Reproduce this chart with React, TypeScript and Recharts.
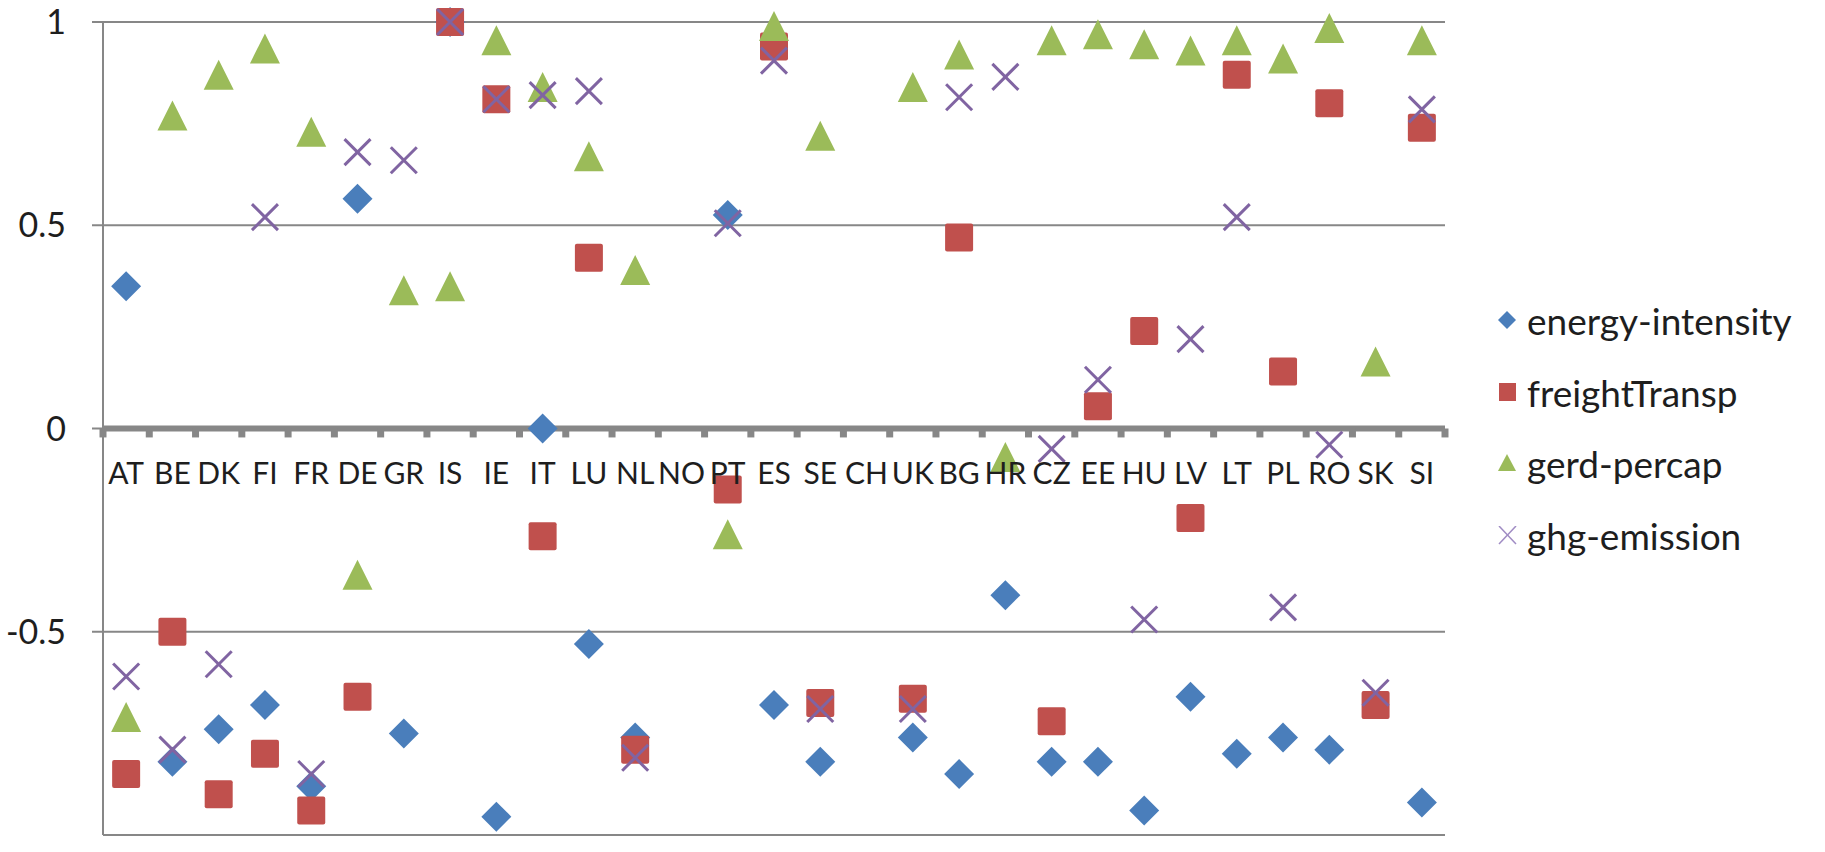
import React from 'react';
import { ScatterChart, Scatter, XAxis, YAxis, CartesianGrid, ReferenceLine } from 'recharts';

// page has an 8px body margin by default; the chart should sit at the top-left corner
if (typeof document !== 'undefined') document.body.style.margin = '0';

const countries = [
  'AT', 'BE', 'DK', 'FI', 'FR', 'DE', 'GR', 'IS', 'IE', 'IT', 'LU', 'NL', 'NO', 'PT', 'ES',
  'SE', 'CH', 'UK', 'BG', 'HR', 'CZ', 'EE', 'HU', 'LV', 'LT', 'PL', 'RO', 'SK', 'SI',
];

const energyIntensity = [
  0.35, -0.82, -0.74, -0.68, -0.88, 0.565, -0.75, 1.0, -0.955, 0, -0.53, -0.76, null, 0.525, -0.68,
  -0.82, null, -0.76, -0.85, -0.41, -0.82, -0.82, -0.94, -0.66, -0.8, -0.76, -0.79, null, -0.92,
];
const freightTransp = [
  -0.85, -0.5, -0.9, -0.8, -0.94, -0.66, null, 1.0, 0.81, -0.265, 0.42, -0.79, null, -0.15, 0.94,
  -0.675, null, -0.665, 0.47, null, -0.72, 0.055, 0.24, -0.22, 0.87, 0.14, 0.8, -0.68, 0.74,
];
const gerdPercap = [
  -0.71, 0.77, 0.87, 0.935, 0.73, -0.36, 0.34, 0.35, 0.955, 0.84, 0.67, 0.39, null, -0.26, 0.99,
  0.72, null, 0.84, 0.92, -0.07, 0.955, 0.97, 0.945, 0.93, 0.955, 0.91, 0.985, 0.165, 0.955,
];
const ghgEmission = [
  -0.61, -0.79, -0.58, 0.52, -0.85, 0.68, 0.66, 1.0, 0.81, 0.82, 0.83, -0.81, null, 0.505, 0.905,
  -0.69, null, -0.69, 0.815, 0.865, -0.05, 0.12, -0.47, 0.22, 0.52, -0.44, -0.04, -0.65, 0.785,
];

const yTicks = [-1, -0.5, 0, 0.5, 1];

const W = 1825;
const H = 852;
const PLOT_LEFT = 103;
const PLOT_RIGHT = 1445;
const PLOT_TOP = 22;
const PLOT_BOTTOM = 835;
const ZERO_Y = (PLOT_TOP + PLOT_BOTTOM) / 2;
const AXIS_GREY = '#878787';
const TEXT = '#1e1e1e';
const FONT = 'Lato, "Open Sans", sans-serif';

const toPoints = (vals: (number | null)[]) =>
  vals
    .map((v, i) => ({ x: i + 0.5, y: v, name: countries[i] }))
    .filter((p) => p.y !== null);

const centers = countries.map((_, i) => i + 0.5);
const boundaries = countries.map((_, i) => i).concat(countries.length);

const Diamond = ({ cx, cy }: any) => (
  <polygon points={`${cx},${cy - 15} ${cx + 15},${cy} ${cx},${cy + 15} ${cx - 15},${cy}`} fill="#4a7ebb" />
);
const Square = ({ cx, cy }: any) => (
  <rect x={cx - 14} y={cy - 14} width={28} height={28} rx={2} fill="#c0504d" />
);
const Triangle = ({ cx, cy }: any) => (
  <polygon points={`${cx},${cy - 15} ${cx + 15},${cy + 15} ${cx - 15},${cy + 15}`} fill="#9bbb59" />
);
const Cross = ({ cx, cy }: any) => (
  <g stroke="#8064a2" strokeWidth={3}>
    <line x1={cx - 13} y1={cy - 13} x2={cx + 13} y2={cy + 13} />
    <line x1={cx - 13} y1={cy + 13} x2={cx + 13} y2={cy - 13} />
  </g>
);

const series = [
  { name: 'energy-intensity', values: energyIntensity, shape: Diamond },
  { name: 'freightTransp', values: freightTransp, shape: Square },
  { name: 'gerd-percap', values: gerdPercap, shape: Triangle },
  { name: 'ghg-emission', values: ghgEmission, shape: Cross },
];

// category labels sit just below the zero line, not at the bottom of the plot
const CountryTick = ({ x, payload }: any) => (
  <text x={x} y={ZERO_Y + 55} textAnchor="middle" fontSize={30} fontFamily={FONT} fill={TEXT}>
    {countries[Math.floor(payload.value)]}
  </text>
);

const legendIcon = (name: string) => {
  if (name === 'energy-intensity')
    return <polygon points="9,0 18,9 9,18 0,9" fill="#4a7ebb" />;
  if (name === 'freightTransp') return <rect x={1} y={0} width={17} height={18} fill="#c0504d" />;
  if (name === 'gerd-percap') return <polygon points="9,0 18,17 0,17" fill="#9bbb59" />;
  return (
    <g stroke="#a08cc4" strokeWidth={1.5}>
      <line x1={1} y1={0} x2={18} y2={18} />
      <line x1={1} y1={18} x2={18} y2={0} />
    </g>
  );
};

// legend kept outside the chart so it does not eat into the plot width
const LegendBox = () => (
  <div style={{ position: 'absolute', left: 1498, top: 285, fontFamily: FONT, fontSize: 37, color: TEXT }}>
    {series.map((s) => (
      <div key={s.name} style={{ display: 'flex', alignItems: 'center', height: 71.5 }}>
        <svg width={19} height={19} style={{ marginRight: 10 }}>
          {legendIcon(s.name)}
        </svg>
        <span>{s.name}</span>
      </div>
    ))}
  </div>
);

export default function App() {
  return (
    <div style={{ position: 'relative', width: W, height: H, background: '#fff' }}>
      <ScatterChart
        width={W}
        height={H}
        margin={{ top: PLOT_TOP, right: W - PLOT_RIGHT, bottom: H - PLOT_BOTTOM - 1, left: 0 }}
      >
        <CartesianGrid vertical={false} stroke={AXIS_GREY} strokeWidth={2} />
        <XAxis
          type="number"
          dataKey="x"
          domain={[0, countries.length]}
          ticks={centers}
          interval={0}
          height={1}
          axisLine={false}
          tickLine={false}
          tick={<CountryTick />}
        />
        <YAxis
          type="number"
          dataKey="y"
          domain={[-1, 1]}
          ticks={yTicks}
          width={PLOT_LEFT}
          stroke={AXIS_GREY}
          strokeWidth={2}
          tickSize={11}
          tickMargin={26}
          tick={{ fontSize: 34, fontFamily: FONT, fill: TEXT }}
          tickFormatter={(v: number) => String(v)}
        />
        <ReferenceLine y={0} stroke={AXIS_GREY} strokeWidth={6} />
        {boundaries.map((k) => (
          <ReferenceLine
            key={k}
            segment={[{ x: k, y: 0 }, { x: k, y: -0.022 }]}
            stroke={AXIS_GREY}
            strokeWidth={7}
          />
        ))}
        {series.map((s) => (
          <Scatter
            key={s.name}
            name={s.name}
            data={toPoints(s.values)}
            shape={s.shape}
            isAnimationActive={false}
          />
        ))}
      </ScatterChart>
      <LegendBox />
    </div>
  );
}
